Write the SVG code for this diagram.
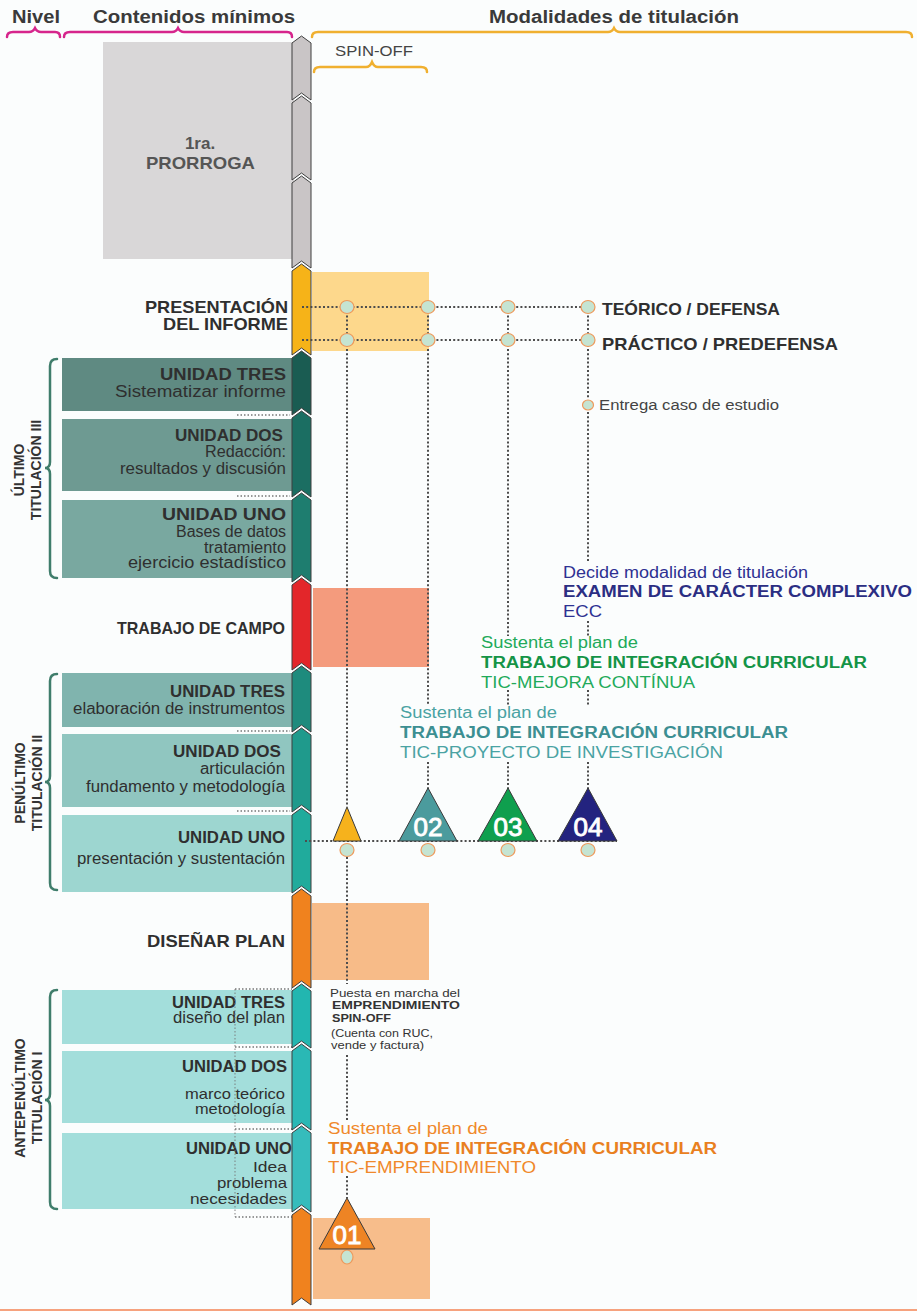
<svg xmlns="http://www.w3.org/2000/svg" width="917" height="1311" viewBox="0 0 917 1311">
<defs>
<style>
text{font-family:"Liberation Sans",Arial,sans-serif}
.h{font-size:18px;font-weight:bold;fill:#3a3a3a}
.b{font-size:16px;font-weight:bold;fill:#2f2f2f}
.r{font-size:16px;fill:#2f2f2f}
.rs{font-size:14.5px;fill:#2f2f2f}
.big{font-size:17px;font-weight:bold;fill:#2f2f2f}
.rot{font-size:14px;font-weight:bold;fill:#333}
.sp{stroke:#3f3f3f;stroke-width:1}
.dot{fill:none;stroke:#4d4d4d;stroke-width:2;stroke-dasharray:2 2.2}
.dl{fill:none;stroke:#777;stroke-width:1.5;stroke-dasharray:1.5 2}
.c{fill:#c5e4d2;stroke:#ee9a5c;stroke-width:1.2}
.tri{stroke:#3a3a3a;stroke-width:1}
.num{font-size:26px;fill:#fff;stroke:#fff;stroke-width:0.9;text-anchor:middle}
.brm{fill:none;stroke:#d6258c;stroke-width:2.5;stroke-linecap:round}
.bro{fill:none;stroke:#f0b030;stroke-width:2.5;stroke-linecap:round}
.brg{fill:none;stroke:#3f7d6b;stroke-width:2.5;stroke-linecap:round}
</style>
</defs>
<rect width="917" height="1311" fill="#fbfdfd"/>

<g id="header">
<text class="h" x="12" y="23" textLength="48" lengthAdjust="spacingAndGlyphs">Nivel</text>
<text class="h" x="93" y="23" textLength="202" lengthAdjust="spacingAndGlyphs">Contenidos mínimos</text>
<text class="h" x="489" y="23" textLength="250" lengthAdjust="spacingAndGlyphs">Modalidades de titulación</text>
<path class="brm" d="M7,37 Q7,32 13,32 L29,32 Q33,32 35,28 Q37,32 41,32 L55,32 Q60,32 60,37"/>
<path class="brm" d="M64,37 Q64,32 70,32 L172,32 Q176,32 178,28 Q180,32 184,32 L287,32 Q292,32 292,37"/>
<path class="bro" d="M312,37 Q312,32 318,32 L608,32 Q612,32 614,28 Q616,32 620,32 L906,32 Q912,32 912,37"/>
<text x="335" y="56" font-size="14" fill="#444" textLength="78" lengthAdjust="spacingAndGlyphs">SPIN-OFF</text>
<path class="bro" d="M314,72 Q314,67 320,67 L366,67 Q370,67 372,62 Q374,67 378,67 L421,67 Q427,67 427,72"/>
</g>

<g id="backgrounds">
<rect x="103" y="42" width="191" height="217" fill="#d9d7d8"/>
<rect x="312" y="272" width="117" height="79" fill="#fdd88c"/>
<rect x="313" y="588" width="116" height="79" fill="#f49b7d"/>
<rect x="312" y="903" width="117" height="77" fill="#f7bb88"/>
<rect x="313" y="1218" width="117" height="81" fill="#f7bd8b"/>
<rect x="0" y="1309" width="917" height="2" fill="#f6a27e"/>
</g>

<g id="prorroga">
<text x="200" y="149" font-size="17" font-weight="bold" fill="#555" text-anchor="middle">1ra.</text>
<text x="146" y="169" font-size="17" font-weight="bold" fill="#555" textLength="109" lengthAdjust="spacingAndGlyphs">PRORROGA</text>
</g>

<g id="presentacion">
<text class="big" x="288" y="313" text-anchor="end" textLength="143" lengthAdjust="spacingAndGlyphs">PRESENTACIÓN</text>
<text class="big" x="288" y="330" text-anchor="end" textLength="125" lengthAdjust="spacingAndGlyphs">DEL INFORME</text>
</g>

<g id="titulacion3">
<rect x="62" y="358" width="231" height="53" fill="#5f8a82"/>
<rect x="62" y="419" width="231" height="72" fill="#6e9a92"/>
<rect x="62" y="500" width="231" height="78" fill="#79a8a0"/>
<text class="b" x="286" y="380" text-anchor="end" textLength="126" lengthAdjust="spacingAndGlyphs">UNIDAD TRES</text>
<text class="r" x="286" y="397" text-anchor="end" textLength="171" lengthAdjust="spacingAndGlyphs">Sistematizar informe</text>
<text class="b" x="283" y="441" text-anchor="end" textLength="108" lengthAdjust="spacingAndGlyphs">UNIDAD DOS</text>
<text class="r" x="286" y="457" text-anchor="end" textLength="81" lengthAdjust="spacingAndGlyphs">Redacción:</text>
<text class="r" x="286" y="474" text-anchor="end" textLength="166" lengthAdjust="spacingAndGlyphs">resultados y discusión</text>
<text class="b" x="286" y="520" text-anchor="end" textLength="124" lengthAdjust="spacingAndGlyphs">UNIDAD UNO</text>
<text class="r" x="286" y="537" text-anchor="end" textLength="110" lengthAdjust="spacingAndGlyphs">Bases de datos</text>
<text class="r" x="286" y="553" text-anchor="end" textLength="82" lengthAdjust="spacingAndGlyphs">tratamiento</text>
<text class="r" x="286" y="568" text-anchor="end" textLength="158" lengthAdjust="spacingAndGlyphs">ejercicio estadístico</text>
<path class="brg" d="M57,359 Q50,359 50,366 L50,462 Q50,468 45,468 Q50,468 50,474 L50,571 Q50,578 57,578"/>
<text class="rot" transform="translate(24,470) rotate(-90)" text-anchor="middle">ÚLTIMO</text>
<text class="rot" transform="translate(41,470) rotate(-90)" text-anchor="middle">TITULACIÓN III</text>
</g>

<g id="campo">
<text class="big" x="285" y="634" font-size="18" text-anchor="end" textLength="168" lengthAdjust="spacingAndGlyphs">TRABAJO DE CAMPO</text>
</g>

<g id="titulacion2">
<rect x="62" y="673" width="231" height="54" fill="#80b4ae"/>
<rect x="62" y="734" width="231" height="73" fill="#90c6c0"/>
<rect x="62" y="815" width="231" height="77" fill="#9dd6d0"/>
<text class="b" x="285" y="697" text-anchor="end" textLength="115" lengthAdjust="spacingAndGlyphs">UNIDAD TRES</text>
<text class="r" x="285" y="714" text-anchor="end" textLength="212" lengthAdjust="spacingAndGlyphs">elaboración de instrumentos</text>
<text class="b" x="281" y="757" text-anchor="end" textLength="108" lengthAdjust="spacingAndGlyphs">UNIDAD DOS</text>
<text class="r" x="285" y="774" text-anchor="end" textLength="85" lengthAdjust="spacingAndGlyphs">articulación</text>
<text class="r" x="285" y="792" text-anchor="end" textLength="199" lengthAdjust="spacingAndGlyphs">fundamento y metodología</text>
<text class="b" x="285" y="843" text-anchor="end" textLength="107" lengthAdjust="spacingAndGlyphs">UNIDAD UNO</text>
<text class="r" x="285" y="864" text-anchor="end" textLength="208" lengthAdjust="spacingAndGlyphs">presentación y sustentación</text>
<path class="brg" d="M57,674 Q50,674 50,681 L50,776 Q50,782 45,782 Q50,782 50,788 L50,883 Q50,890 57,890"/>
<text class="rot" transform="translate(25,783) rotate(-90)" text-anchor="middle">PENÚLTIMO</text>
<text class="rot" transform="translate(42,783) rotate(-90)" text-anchor="middle">TITULACIÓN II</text>
</g>

<g id="disenar">
<text class="big" x="285" y="947" font-size="18" text-anchor="end" textLength="138" lengthAdjust="spacingAndGlyphs">DISEÑAR PLAN</text>
</g>

<g id="titulacion1">
<rect x="62" y="990" width="231" height="54" fill="#a3dedb"/>
<rect x="62" y="1051" width="231" height="72" fill="#a3dedb"/>
<rect x="62" y="1133" width="231" height="76" fill="#a3dedb"/>
<text class="b" x="285" y="1008" text-anchor="end" textLength="113" lengthAdjust="spacingAndGlyphs">UNIDAD TRES</text>
<text class="r" x="285" y="1023" text-anchor="end" textLength="112" lengthAdjust="spacingAndGlyphs">diseño del plan</text>
<text class="b" x="287" y="1072" text-anchor="end" textLength="105" lengthAdjust="spacingAndGlyphs">UNIDAD DOS</text>
<text class="rs" x="285" y="1099" text-anchor="end" textLength="100" lengthAdjust="spacingAndGlyphs">marco teórico</text>
<text class="rs" x="285" y="1114" text-anchor="end" textLength="90" lengthAdjust="spacingAndGlyphs">metodología</text>
<text class="b" x="292" y="1154" text-anchor="end" textLength="106" lengthAdjust="spacingAndGlyphs">UNIDAD UNO</text>
<text class="rs" x="287" y="1172" text-anchor="end" textLength="34" lengthAdjust="spacingAndGlyphs">Idea</text>
<text class="rs" x="287" y="1188" text-anchor="end" textLength="70" lengthAdjust="spacingAndGlyphs">problema</text>
<text class="rs" x="287" y="1204" text-anchor="end" textLength="97" lengthAdjust="spacingAndGlyphs">necesidades</text>
<path class="brg" d="M57,990 Q50,990 50,997 L50,1094 Q50,1100 45,1100 Q50,1100 50,1106 L50,1202 Q50,1209 57,1209"/>
<text class="rot" transform="translate(25,1098) rotate(-90)" text-anchor="middle">ANTEPENÚLTIMO</text>
<text class="rot" transform="translate(42,1098) rotate(-90)" text-anchor="middle">TITULACIÓN I</text>
</g>

<g id="left-dots">
<path class="dl" d="M237,415 H290 M237,496 H290 M237,731 H290 M237,811 H290 M235,989 H292 M235,1047 H292 M235,1129 H292 M235,1217 H292"/>
<path class="dl" d="M235,989 V1217" opacity="0.6"/>
</g>

<g id="spine">
<polygon class="sp" fill="#c9c5c6" points="292,43 301.5,36 311,43 311,100 301.5,93 292,100"/>
<polygon class="sp" fill="#c9c5c6" points="292,103 301.5,96 311,103 311,180 301.5,173 292,180"/>
<polygon class="sp" fill="#c9c5c6" points="292,183 301.5,176 311,183 311,268 301.5,261 292,268"/>
<polygon class="sp" fill="#f6b318" points="292,271 301.5,264 311,271 311,355 301.5,348 292,355"/>
<polygon class="sp" fill="#1a5c52" points="292,358 301.5,351 311,358 311,415 301.5,408 292,415"/>
<polygon class="sp" fill="#1b6e62" points="292,418 301.5,411 311,418 311,497 301.5,490 292,497"/>
<polygon class="sp" fill="#1e7d6f" points="292,500 301.5,493 311,500 311,582 301.5,575 292,582"/>
<polygon class="sp" fill="#e3262a" points="292,585 301.5,578 311,585 311,670 301.5,663 292,670"/>
<polygon class="sp" fill="#1e8b7d" points="292,673 301.5,666 311,673 311,732 301.5,725 292,732"/>
<polygon class="sp" fill="#1f9a8c" points="292,735 301.5,728 311,735 311,812 301.5,805 292,812"/>
<polygon class="sp" fill="#20ab9c" points="292,815 301.5,808 311,815 311,893 301.5,886 292,893"/>
<polygon class="sp" fill="#f0821e" points="292,896 301.5,889 311,896 311,988 301.5,981 292,988"/>
<polygon class="sp" fill="#22b6b0" points="292,991 301.5,984 311,991 311,1048 301.5,1041 292,1048"/>
<polygon class="sp" fill="#2ab8b5" points="292,1051 301.5,1044 311,1051 311,1130 301.5,1123 292,1130"/>
<polygon class="sp" fill="#36bcbc" points="292,1133 301.5,1126 311,1133 311,1212 301.5,1205 292,1212"/>
<polygon class="sp" fill="#f0821e" points="292,1215 301.5,1208 311,1215 311,1305 301.5,1298 292,1305"/>
</g>

<g id="connectors">
<path class="dot" d="M302,307 H581 M302,340 H581 M305,841 H617"/>
<path class="dot" d="M347,307 V807 M347,857 V984 M347,1055 V1122 M347,1176 V1198"/>
<path class="dot" d="M428,307 V705 M428,762 V790"/>
<path class="dot" d="M508,307 V636 M508,690 V705 M508,762 V790"/>
<path class="dot" d="M588,307 V398 M588,412 V562 M588,621 V636 M588,690 V705 M588,762 V790"/>
</g>

<g id="nodes">
<ellipse class="c" cx="347" cy="307" rx="7" ry="6.5"/>
<ellipse class="c" cx="428" cy="307" rx="7" ry="6.5"/>
<ellipse class="c" cx="508" cy="307" rx="7" ry="6.5"/>
<ellipse class="c" cx="588" cy="307" rx="7" ry="6.5"/>
<ellipse class="c" cx="347" cy="340" rx="7" ry="6.5"/>
<ellipse class="c" cx="428" cy="340" rx="7" ry="6.5"/>
<ellipse class="c" cx="508" cy="340" rx="7" ry="6.5"/>
<ellipse class="c" cx="588" cy="340" rx="7" ry="6.5"/>
<ellipse class="c" cx="588" cy="405" rx="5.5" ry="5"/>
<ellipse class="c" cx="347" cy="850" rx="7" ry="6.5"/>
<ellipse class="c" cx="428" cy="850" rx="7" ry="6.5"/>
<ellipse class="c" cx="508" cy="850" rx="7" ry="6.5"/>
<ellipse class="c" cx="588" cy="850" rx="7" ry="6.5"/>
<ellipse class="c" cx="347" cy="1257" rx="6" ry="7" stroke="#e05a4a"/>
</g>

<g id="modalidades-labels">
<text x="602" y="315" font-size="17" font-weight="bold" fill="#2f2f2f" textLength="178" lengthAdjust="spacingAndGlyphs">TEÓRICO / DEFENSA</text>
<text x="602" y="350" font-size="17" font-weight="bold" fill="#2f2f2f" textLength="236" lengthAdjust="spacingAndGlyphs">PRÁCTICO / PREDEFENSA</text>
<text x="599" y="410" font-size="14" fill="#444" textLength="180" lengthAdjust="spacingAndGlyphs">Entrega caso de estudio</text>
</g>

<g id="ecc">
<text x="563" y="578" font-size="16" fill="#2e3192" textLength="245" lengthAdjust="spacingAndGlyphs">Decide modalidad de titulación</text>
<text x="563" y="597" font-size="16" font-weight="bold" fill="#2b2e83" textLength="349" lengthAdjust="spacingAndGlyphs">EXAMEN DE CARÁCTER COMPLEXIVO</text>
<text x="563" y="617" font-size="16" fill="#2e3192" textLength="39" lengthAdjust="spacingAndGlyphs">ECC</text>
</g>

<g id="tic-mejora">
<text x="481" y="648" font-size="16" fill="#22aa5a" textLength="157" lengthAdjust="spacingAndGlyphs">Sustenta el plan de</text>
<text x="481" y="668" font-size="16" font-weight="bold" fill="#149447" textLength="386" lengthAdjust="spacingAndGlyphs">TRABAJO DE INTEGRACIÓN CURRICULAR</text>
<text x="481" y="688" font-size="16" fill="#22aa5a" textLength="214" lengthAdjust="spacingAndGlyphs">TIC-MEJORA CONTÍNUA</text>
</g>

<g id="tic-proyecto">
<text x="400" y="718" font-size="16" fill="#4aa3a3" textLength="157" lengthAdjust="spacingAndGlyphs">Sustenta el plan de</text>
<text x="400" y="738" font-size="16" font-weight="bold" fill="#3c8f92" textLength="388" lengthAdjust="spacingAndGlyphs">TRABAJO DE INTEGRACIÓN CURRICULAR</text>
<text x="400" y="758" font-size="16" fill="#4aa3a3" textLength="323" lengthAdjust="spacingAndGlyphs">TIC-PROYECTO DE INVESTIGACIÓN</text>
</g>

<g id="spinoff-note">
<text x="330" y="997" font-size="11" fill="#333" textLength="130" lengthAdjust="spacingAndGlyphs">Puesta en marcha del</text>
<text x="332" y="1009" font-size="11" font-weight="bold" fill="#333" textLength="128" lengthAdjust="spacingAndGlyphs">EMPRENDIMIENTO</text>
<text x="332" y="1022" font-size="11" font-weight="bold" fill="#333" textLength="59" lengthAdjust="spacingAndGlyphs">SPIN-OFF</text>
<text x="331" y="1037" font-size="11" fill="#333" textLength="102" lengthAdjust="spacingAndGlyphs">(Cuenta con RUC,</text>
<text x="331" y="1049" font-size="11" fill="#333" textLength="93" lengthAdjust="spacingAndGlyphs">vende y factura)</text>
</g>

<g id="tic-emprendimiento">
<text x="328" y="1134" font-size="16" fill="#f0892b" textLength="160" lengthAdjust="spacingAndGlyphs">Sustenta el plan de</text>
<text x="328" y="1154" font-size="16" font-weight="bold" fill="#e9801f" textLength="389" lengthAdjust="spacingAndGlyphs">TRABAJO DE INTEGRACIÓN CURRICULAR</text>
<text x="328" y="1173" font-size="16" fill="#f0892b" textLength="208" lengthAdjust="spacingAndGlyphs">TIC-EMPRENDIMIENTO</text>
</g>

<g id="triangles">
<polygon class="tri" fill="#f6b21c" points="347,807 333,841 361,841"/>
<g id="t02"><polygon class="tri" fill="#4b9b9d" points="428,788 399,841 457,841"/><text class="num" x="428" y="836">02</text></g>
<g id="t03"><polygon class="tri" fill="#0f9f4e" points="508,788 478,841 537,841"/><text class="num" x="508" y="836">03</text></g>
<g id="t04"><polygon class="tri" fill="#23237f" points="588,788 558,841 617,841"/><text class="num" x="588" y="836">04</text></g>
<g id="t01"><polygon class="tri" fill="#ee8424" points="347,1198 319,1249 375,1249"/><text class="num" x="347" y="1244">01</text></g>
</g>
</svg>
